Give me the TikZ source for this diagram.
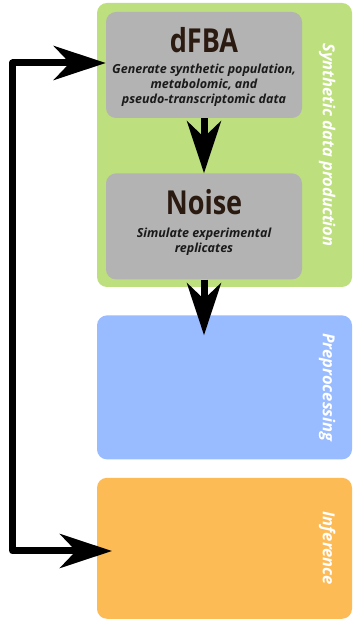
\documentclass[tikz,border=0pt]{standalone}
\usepackage{fontspec}
\setmainfont{Open Sans}
\newfontfamily\condfont[FakeStretch=0.82]{Open Sans}
\usetikzlibrary{positioning, arrows.meta}
\definecolor{synthgreen}{HTML}{BDDF7E}
\definecolor{boxgray}{HTML}{B3B3B3}
\definecolor{prepblue}{HTML}{99BBFF}
\definecolor{inforange}{HTML}{FDBB55}
\definecolor{titlebrown}{HTML}{2B1A10}
\definecolor{textdark}{HTML}{1A1A1A}
\tikzstyle{stage} = [rectangle, rounded corners=10pt, minimum width=255pt, inner sep=0pt]
\tikzstyle{gblock} = [rectangle, fill=boxgray, rounded corners=10pt, text=textdark,
minimum width=196pt, minimum height=106pt, align=center, inner sep=0pt,
font=\fontsize{12.5}{15}\selectfont\bfseries\itshape]
\tikzstyle{stagelabel} = [rotate=-90, text=white, font=\fontsize{16.5}{20}\selectfont\bfseries\itshape]
\tikzstyle{arrow} = [line width=7pt, -{Stealth[length=52pt, width=34pt, inset=16pt]}]
\tikzstyle{biarrow} = [line width=7pt, line join=round,
{Stealth[length=52pt, width=34pt, inset=16pt]}-{Stealth[length=52pt, width=34pt, inset=16pt]}]
\newcommand{\blocktitle}[1]{{\condfont\upshape\bfseries\fontsize{33}{34}\selectfont\color{titlebrown}#1}}

\begin{document}
\begin{tikzpicture}[x=1pt, y=1pt]
    \useasboundingbox (0,0) rectangle (353,620);
	\node (Synth) [stage, fill=synthgreen, minimum height=284pt] at (224.5,475) {};
	\node (dFBA) [gblock] at (204,555) {\rule{0pt}{30pt}\blocktitle{dFBA}\\[6pt]
	Generate synthetic population,\\ metabolomic, and\\ pseudo-transcriptomic data};
	\node (Noise) [gblock, below=55pt of dFBA] {\blocktitle{Noise}\\[8pt]
	Simulate experimental\\ replicates\rule[-11pt]{0pt}{11pt}};
	\node (Prep) [stage, fill=prepblue, minimum height=144pt, below=28pt of Synth] {};
	\node (Infer) [stage, fill=inforange, minimum height=141pt, below=18pt of Prep] {};

	\node [stagelabel] at ([xshift=-25pt]Synth.east) {Synthetic data production};
	\node [stagelabel] at ([xshift=-25pt]Prep.east) {Preprocessing};
	\node [stagelabel] at ([xshift=-25pt]Infer.east) {Inference};

	\coordinate (prepIn) at ([yshift=-20pt]Prep.north -| Noise.south);
	\coordinate (inferIn) at (112,69);

	\draw [arrow] (dFBA) -- (Noise);
	\draw [arrow] (Noise) -- (prepIn);
	\draw [biarrow] ([yshift=2pt]dFBA.west) -- ++(-93,0) |- (inferIn);
\end{tikzpicture}
\end{document}
